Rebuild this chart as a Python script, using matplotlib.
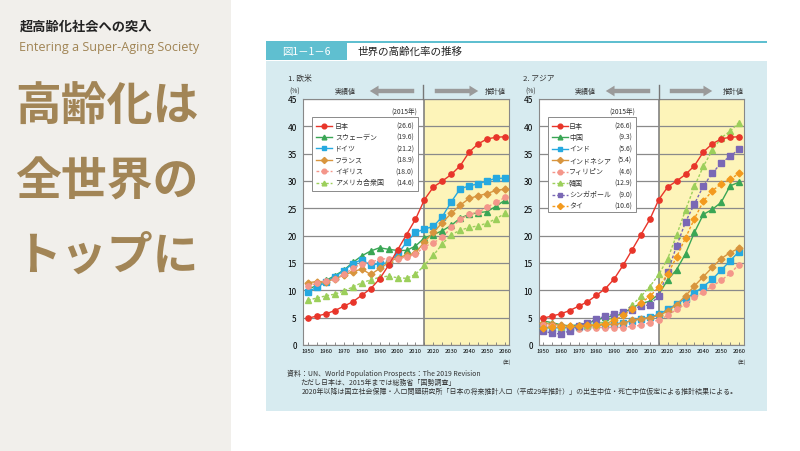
import matplotlib
matplotlib.use("Agg")
import matplotlib.pyplot as plt
from matplotlib.lines import Line2D
from matplotlib.patches import Rectangle

plt.rcParams["font.family"] = ["Noto Sans CJK JP", "DejaVu Sans"]

W, H = 800, 452

# ---- data (aging rate %, 65+) ----
years = list(range(1950, 2061, 5))

japan = [4.9, 5.3, 5.7, 6.3, 7.1, 7.9, 9.1, 10.3, 12.1, 14.6, 17.4, 20.2, 23.0,
         26.6, 28.9, 30.0, 31.2, 32.8, 35.3, 36.8, 37.7, 38.0, 38.1]

sweden = [10.2, 10.9, 11.8, 12.7, 13.7, 15.1, 16.3, 17.2, 17.8, 17.5, 17.3, 17.3, 18.1,
          19.6, 20.2, 20.9, 21.9, 23.2, 23.9, 24.2, 24.4, 25.4, 26.5]
germany = [9.7, 10.6, 11.5, 12.5, 13.6, 14.9, 15.6, 14.6, 14.9, 15.0, 16.6, 18.8, 20.6,
           21.2, 21.7, 23.5, 26.2, 28.6, 29.1, 29.5, 30.0, 30.5, 30.5]
france = [11.4, 11.6, 11.6, 12.1, 12.8, 13.4, 13.9, 12.9, 14.0, 15.1, 16.0, 16.4, 16.8,
          18.9, 20.6, 22.4, 24.1, 25.6, 26.8, 27.3, 27.7, 28.3, 28.5]
uk = [10.8, 11.3, 11.7, 12.0, 12.9, 14.0, 14.9, 15.1, 15.7, 15.8, 15.8, 16.1, 16.6,
      18.0, 18.7, 19.7, 21.5, 23.0, 23.9, 24.3, 25.2, 26.1, 27.0]
usa = [8.2, 8.6, 9.0, 9.3, 9.9, 10.6, 11.4, 11.9, 12.4, 12.6, 12.3, 12.2, 12.9,
       14.6, 16.4, 18.5, 20.2, 21.0, 21.5, 21.8, 22.3, 23.1, 24.1]

china = [4.4, 4.1, 3.7, 3.5, 3.7, 4.0, 4.5, 5.1, 5.3, 5.8, 6.8, 7.6, 8.0,
         9.3, 11.9, 13.8, 16.7, 20.6, 23.9, 24.8, 26.1, 29.1, 29.8]
india = [3.1, 3.2, 3.1, 3.2, 3.3, 3.5, 3.6, 3.7, 3.8, 4.1, 4.4, 4.8, 5.1,
         5.6, 6.5, 7.5, 8.5, 9.5, 10.7, 12.0, 13.7, 15.4, 17.1]
indonesia = [4.0, 3.8, 3.6, 3.4, 3.4, 3.5, 3.6, 3.8, 3.8, 4.0, 4.5, 4.8, 5.0,
             5.4, 6.2, 7.4, 9.0, 10.8, 12.5, 14.2, 15.8, 16.9, 17.7]
philippines = [3.6, 3.4, 3.1, 3.0, 3.0, 3.1, 3.2, 3.2, 3.2, 3.2, 3.4, 3.6, 4.1,
               4.6, 5.4, 6.5, 7.5, 8.7, 9.7, 10.8, 11.8, 13.1, 14.7]
korea = [3.0, 3.2, 3.3, 3.4, 3.5, 3.7, 3.9, 4.3, 5.1, 5.9, 7.3, 8.9, 10.7,
         12.9, 15.8, 20.1, 24.7, 29.0, 32.7, 35.6, 37.9, 39.1, 40.7]
singapore = [2.5, 2.2, 2.0, 2.6, 3.4, 4.1, 4.7, 5.3, 5.6, 6.0, 6.4, 7.2, 7.3,
             9.0, 13.4, 18.1, 22.5, 25.8, 29.1, 31.4, 33.3, 34.5, 35.8]
thailand = [3.2, 3.3, 3.3, 3.4, 3.5, 3.6, 3.7, 3.9, 4.5, 5.4, 6.5, 7.7, 8.9,
            10.6, 13.0, 16.1, 19.6, 23.1, 26.3, 28.2, 29.5, 30.3, 31.4]

west_names = ["日本", "スウェーデン", "ドイツ", "フランス", "イギリス", "アメリカ合衆国"]
west_values = [japan, sweden, germany, france, uk, usa]
west_2015 = ["26.6", "19.6", "21.2", "18.9", "18.0", "14.6"]

asia_names = ["日本", "中国", "インド", "インドネシア", "フィリピン", "韓国", "シンガポール", "タイ"]
asia_values = [japan, china, india, indonesia, philippines, korea, singapore, thailand]
asia_2015 = ["26.6", "9.3", "5.6", "5.4", "4.6", "12.9", "9.0", "10.6"]

DOT = (0, (2, 1.4))
styles = {
    "日本": ("#e8352a", "-", "o"),
    "スウェーデン": ("#3aa655", "-", "^"),
    "中国": ("#3aa655", "-", "^"),
    "ドイツ": ("#26a9e0", "-", "s"),
    "インド": ("#26a9e0", "-", "s"),
    "フランス": ("#d8953e", "-", "D"),
    "インドネシア": ("#d8953e", "-", "D"),
    "イギリス": ("#f4968a", DOT, "o"),
    "フィリピン": ("#f4968a", DOT, "o"),
    "アメリカ合衆国": ("#9ccf5b", DOT, "^"),
    "韓国": ("#9ccf5b", DOT, "^"),
    "シンガポール": ("#7a68b5", DOT, "s"),
    "タイ": ("#f39a1e", DOT, "D"),
}


def fx(x):
    return x / W


def fy(y):
    return 1 - y / H


def rect(x0, y0, x1, y1, color, z=-10, ec="none", lw=0):
    fig.add_artist(Rectangle((fx(x0), fy(y1)), (x1 - x0) / W, (y1 - y0) / H,
                             transform=fig.transFigure, facecolor=color,
                             edgecolor=ec, linewidth=lw, zorder=z))


def text(x, y, s, **kw):
    kw.setdefault("va", "center")
    fig.text(fx(x), fy(y), s, **kw)


fig = plt.figure(figsize=(8, 4.52), dpi=100)
fig.patch.set_facecolor("white")

# ---- left slide panel ----
rect(0, 0, 231, H, "#f1efeb")
text(20, 27, "超高齢化社会への突入", fontsize=9.5, fontweight="bold", color="#222222")
text(19, 47, "Entering a Super-Aging Society", fontsize=9.1, color="#a08454",
     family=["Open Sans", "DejaVu Sans"])
gold = "#a28556"
for yy, line in zip([108, 183, 257], ["高齢化は", "全世界の", "トップに"]):
    text(15, yy, line, fontsize=33, fontweight="bold", color=gold)

# ---- chart card ----
rect(266, 43, 767, 412, "#d7ebf0")
rect(266, 43, 767, 62, "white")
rect(266, 42, 767, 44, "#5fbfd0")
rect(266, 43, 347, 61, "#5fbfd0")
text(306, 52, "図1－1－6", fontsize=7.5, color="white", ha="center")
text(357, 52, "世界の高齢化率の推移", fontsize=7.6, color="#222222")


def draw_panel(ax_box, xlim, names, values, vals2015, title, tx, legend_box, leg_x, arrows):
    left, right = ax_box
    ax = fig.add_axes([fx(left), fy(346), (right - left) / W, (346 - 100) / H])
    ax.set_facecolor("white")
    ax.set_xlim(*xlim)
    ax.set_ylim(0, 45)
    ax.axvspan(2015, xlim[1], color="#fdf4b9", zorder=0, lw=0)
    ax.set_yticks(range(0, 46, 5))
    ax.yaxis.grid(True, color="#8a8a8a", lw=0.9, zorder=1)
    ax.axvline(2015, color="#777777", lw=1.1, zorder=1)
    ax.set_xticks(range(1950, 2061, 10))
    ax.set_xticks(range(1955, 2060, 10), minor=True)
    ax.tick_params(axis="x", which="both", direction="in", length=2, width=0.6,
                   color="#777777", labelsize=4.2, pad=2.5)
    ax.tick_params(axis="y", length=0, labelsize=6, pad=4.5)
    for sp in ax.spines.values():
        sp.set_color("#888888")
        sp.set_linewidth(0.8)
    order = list(range(len(names)))[1:] + [0]
    for i in order:
        c, ls, m = styles[names[i]]
        ax.plot(years, values[i], color=c, ls=ls, lw=1.0, marker=m,
                ms=3.8 if m != "D" else 3.5, mec=c, mfc=c, zorder=3 + (i == 0))

    # labels above the axes
    text(tx, 79, title, fontsize=5.6, color="#333333")
    text(left - 14, 92, "(%)", fontsize=4.8, color="#333333")
    text(right - 2, 362, "(年)", fontsize=3.6, color="#333333", ha="center")
    a_txt, a_l0, a_l1, vline, a_r0, a_r1, p_txt = arrows
    text(a_txt, 92, "実績値", fontsize=5, color="#333333", ha="center")
    text(p_txt, 92, "推計値", fontsize=5, color="#333333", ha="center")
    arrow_style = "simple,head_length=0.9,head_width=1.1,tail_width=0.45"
    for x0, x1 in [(a_l0, a_l1), (a_r0, a_r1)]:
        fig.add_artist(plt.Annotation("", xy=(x1, H - 92), xytext=(x0, H - 92),
                                      xycoords="figure pixels", textcoords="figure pixels",
                                      arrowprops=dict(arrowstyle=arrow_style, color="#9a9a9a",
                                                      mutation_scale=7, lw=0)))
    fig.add_artist(Line2D([fx(vline)] * 2, [fy(86), fy(100)], transform=fig.transFigure,
                          color="#777777", lw=1.0))

    # legend box
    bx0, by0, bx1, by1, row0, dy = legend_box
    rect(bx0, by0, bx1, by1, "white", z=5, ec="#8a8a8a", lw=0.7)
    s0, n0, v1 = leg_x
    text(v1 + 3, 112, "(2015年)", fontsize=4.8, color="#333333", ha="right", zorder=6)
    for i, (name, v) in enumerate(zip(names, vals2015)):
        c, ls, m = styles[name]
        y = row0 + i * dy
        fig.add_artist(Line2D([fx(s0), fx(s0 + 16)], [fy(y)] * 2, transform=fig.transFigure,
                              color=c, ls=ls, lw=1.0, zorder=6))
        fig.add_artist(Line2D([fx(s0 + 8)], [fy(y)], transform=fig.transFigure, color=c,
                              marker=m, ms=3.4 if m != "D" else 3.1, mec=c, mfc=c, zorder=6))
        text(n0, y, name, fontsize=5, color="#333333", zorder=6)
        text(v1, y, f"({v})", fontsize=5, color="#333333", ha="right", zorder=6)
    return ax


draw_panel((303, 509), (1947.2, 2062.2), west_names, west_values, west_2015,
           "1. 欧米", 288,
           (312, 118, 418, 192, 126.5, 11.4), (316, 335, 414),
           (345, 417, 367, 423, 432, 481, 495))
draw_panel((539, 744), (1947.8, 2062.8), asia_names, asia_values, asia_2015,
           "2. アジア", 523,
           (548, 118, 636, 213, 126.5, 11.5), (552, 569, 632),
           (585, 653, 603, 659, 667, 715, 733))

# ---- source note ----
note_color = "#333333"
text(287, 374, "資料：UN、World Population Prospects：The 2019 Revision", fontsize=5,
     color=note_color)
text(300, 383, "ただし日本は、2015年までは総務省「国勢調査」", fontsize=5, color=note_color)
text(302, 392, "2020年以降は国立社会保障・人口問題研究所「日本の将来推計人口（平成29年推計）」"
     "の出生中位・死亡中位仮定による推計結果による。", fontsize=5, color=note_color)

fig.savefig("out.png", dpi=100)
